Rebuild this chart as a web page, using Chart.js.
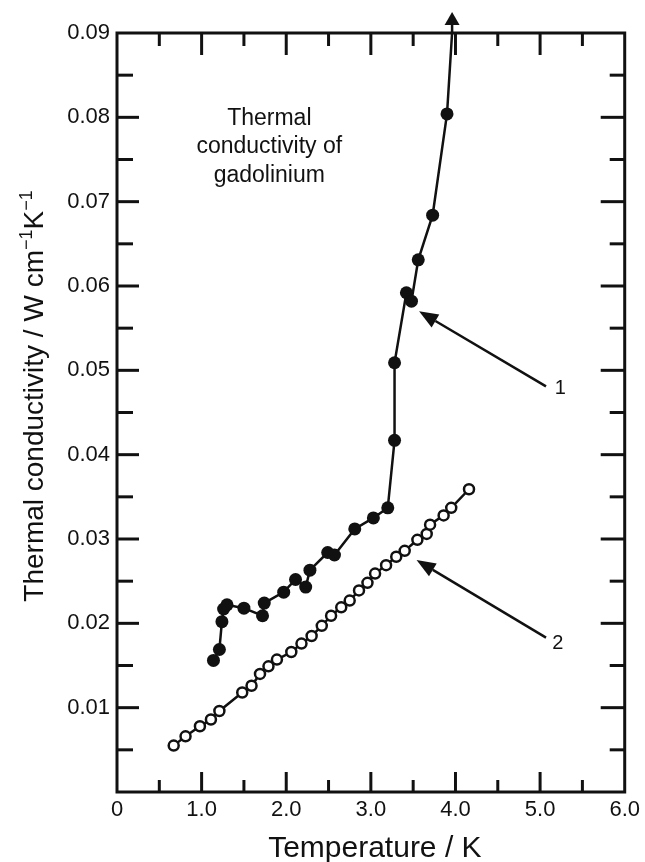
<!DOCTYPE html>
<html>
<head>
<meta charset="utf-8">
<script src="https://cdn.jsdelivr.net/npm/chart.js@4.4.1/dist/chart.umd.min.js"></script>
<style>
  html, body { margin: 0; padding: 0; background: #fff; }
  canvas { display: block; }
</style>
</head>
<body>
<canvas id="myChart" width="645" height="862"></canvas>
<script>
// curve 1 (filled circles), last entry is where the line leaves the frame
let temp1 = [1.14, 1.21, 1.24, 1.26, 1.30, 1.50, 1.72, 1.74, 1.97, 2.11, 2.23, 2.28,
             2.49, 2.57, 2.81, 3.03, 3.20, 3.28, 3.28, 3.42, 3.48, 3.56, 3.73, 3.90, 3.96];
let cond1 = [0.0156, 0.0169, 0.0202, 0.0217, 0.0222, 0.0218, 0.0209, 0.0224, 0.0237, 0.0252, 0.0243, 0.0263,
             0.0284, 0.0281, 0.0312, 0.0325, 0.0337, 0.0417, 0.0509, 0.0592, 0.0582, 0.0631, 0.0684, 0.0804, 0.0900];

// curve 2 (open circles)
let temp2 = [0.67, 0.81, 0.98, 1.11, 1.21, 1.48, 1.59, 1.69, 1.79, 1.89, 2.06, 2.18, 2.30, 2.42, 2.53,
             2.65, 2.75, 2.86, 2.96, 3.05, 3.18, 3.30, 3.40, 3.55, 3.66, 3.70, 3.86, 3.95, 4.16];
let cond2 = [0.0055, 0.0066, 0.0078, 0.0086, 0.0096, 0.0118, 0.0126, 0.0140, 0.0149, 0.0157, 0.0166, 0.0176, 0.0185, 0.0197, 0.0209,
             0.0219, 0.0227, 0.0239, 0.0248, 0.0259, 0.0269, 0.0279, 0.0286, 0.0299, 0.0306, 0.0317, 0.0328, 0.0337, 0.0359];

let xTickLabels = ['0', '1.0', '2.0', '3.0', '4.0', '5.0', '6.0'];
let yTickLabels = ['', '0.01', '0.02', '0.03', '0.04', '0.05', '0.06', '0.07', '0.08', '0.09'];

let ink = '#111';
let fam = '"Liberation Sans", Arial, Helvetica, sans-serif';

function toPoints(xs, ys) {
    return xs.map((t, i) => ({x: t, y: ys[i]}));
}

function arrow(ctx, x0, y0, x1, y1, headLen, headW) {
    let ang = Math.atan2(y1 - y0, x1 - x0);
    let bx = x1 - Math.cos(ang) * headLen, by = y1 - Math.sin(ang) * headLen;
    ctx.beginPath();
    ctx.moveTo(x0, y0);
    ctx.lineTo(bx, by);
    ctx.stroke();
    ctx.beginPath();
    ctx.moveTo(x1, y1);
    ctx.lineTo(bx + Math.sin(ang) * headW / 2, by - Math.cos(ang) * headW / 2);
    ctx.lineTo(bx - Math.sin(ang) * headW / 2, by + Math.cos(ang) * headW / 2);
    ctx.closePath();
    ctx.fill();
}

// frame, inward ticks, arrows and text
let decor = {
    id: 'decor',
    afterDraw(chart) {
        let ctx = chart.ctx, a = chart.chartArea;
        let x = chart.scales.x, y = chart.scales.y;
        let seg = (x0, y0, x1, y1) => { ctx.beginPath(); ctx.moveTo(x0, y0); ctx.lineTo(x1, y1); ctx.stroke(); };
        ctx.save();
        ctx.strokeStyle = ink;
        ctx.fillStyle = ink;
        ctx.lineWidth = 3;
        ctx.strokeRect(a.left, a.top, a.right - a.left, a.bottom - a.top);

        for (let i = 1; i < 12; i++) {
            let px = x.getPixelForValue(i * 0.5);
            let major = i % 2 === 0;
            seg(px, a.bottom, px, a.bottom - (major ? 20 : 12));
            seg(px, a.top, px, a.top + (major ? 22 : 13));
        }
        for (let i = 1; i < 18; i++) {
            let py = y.getPixelForValue(i * 0.005);
            let major = i % 2 === 0;
            seg(a.left, py, a.left + (major ? 22 : 16), py);
            seg(a.right, py, a.right - (major ? 24 : 15), py);
        }

        // curve 1 runs off the top of the frame
        ctx.lineWidth = 2.5;
        let ex = x.getPixelForValue(temp1[temp1.length - 1]);
        arrow(ctx, ex, a.top, ex, a.top - 21, 13, 15);

        // pointer arrows
        arrow(ctx, x.getPixelForValue(5.07), y.getPixelForValue(0.0481),
              x.getPixelForValue(3.57), y.getPixelForValue(0.0570), 19, 15);
        arrow(ctx, x.getPixelForValue(5.07), y.getPixelForValue(0.0183),
              x.getPixelForValue(3.54), y.getPixelForValue(0.0275), 19, 15);

        ctx.textAlign = 'center';
        ctx.textBaseline = 'middle';
        ctx.font = '20px ' + fam;
        ctx.fillText('1', x.getPixelForValue(5.24), y.getPixelForValue(0.0478));
        ctx.fillText('2', x.getPixelForValue(5.21), y.getPixelForValue(0.0176));

        ctx.font = '23px ' + fam;
        let ix = x.getPixelForValue(1.80);
        ctx.fillText('Thermal', ix, y.getPixelForValue(0.0799));
        ctx.fillText('conductivity of', ix, y.getPixelForValue(0.0765));
        ctx.fillText('gadolinium', ix, y.getPixelForValue(0.0731));

        // axis titles
        ctx.font = '30px ' + fam;
        ctx.textBaseline = 'alphabetic';
        ctx.fillText('Temperature / K', (a.left + a.right) / 2 + 4, 857);

        let parts = [['Thermal conductivity / W cm', 28, 0], ['\u22121', 18, 11], ['K', 28, 0], ['\u22121', 18, 11]];
        let total = 0;
        parts.forEach(p => { ctx.font = p[1] + 'px ' + fam; total += ctx.measureText(p[0]).width; });
        ctx.translate(33, 396);
        ctx.rotate(-Math.PI / 2);
        ctx.textAlign = 'left';
        let cx = -total / 2;
        parts.forEach(p => {
            ctx.font = p[1] + 'px ' + fam;
            ctx.fillText(p[0], cx, 10 - p[2]);
            cx += ctx.measureText(p[0]).width;
        });
        ctx.restore();
    }
};

let ctx = document.getElementById('myChart').getContext('2d');

let myChart = new Chart(ctx, {
    type: 'scatter',
    data: {
        datasets: [
            {
                data: toPoints(temp1, cond1),
                showLine: true,
                borderColor: ink,
                borderWidth: 2.5,
                backgroundColor: ink,
                pointBackgroundColor: ink,
                pointBorderColor: ink,
                pointBorderWidth: 0,
                pointRadius: (c) => c.dataIndex === temp1.length - 1 ? 0 : 6.5,
                tension: 0
            },
            {
                data: toPoints(temp2, cond2),
                showLine: true,
                borderColor: ink,
                borderWidth: 2.5,
                pointBackgroundColor: '#fff',
                pointBorderColor: ink,
                pointBorderWidth: 2.5,
                pointRadius: 5,
                tension: 0
            }
        ]
    },
    options: {
        responsive: false,
        devicePixelRatio: 1,
        animation: false,
        layout: { padding: { top: 33, right: 19, left: 0, bottom: 0 } },
        plugins: {
            legend: { display: false },
            tooltip: { enabled: false }
        },
        scales: {
            x: {
                type: 'linear',
                min: 0,
                max: 6,
                grid: { display: false, drawTicks: false },
                border: { display: false },
                ticks: {
                    stepSize: 1,
                    autoSkip: false,
                    maxRotation: 0,
                    padding: 5,
                    color: ink,
                    font: { family: fam, size: 22 },
                    callback: (v, i) => xTickLabels[i]
                },
                afterFit: (s) => { s.height = 70; }
            },
            y: {
                type: 'linear',
                min: 0,
                max: 0.09,
                grid: { display: false, drawTicks: false },
                border: { display: false },
                ticks: {
                    stepSize: 0.01,
                    autoSkip: false,
                    padding: 7,
                    color: ink,
                    font: { family: fam, size: 22 },
                    callback: (v, i) => yTickLabels[i]
                },
                afterFit: (s) => { s.width = 117; }
            }
        }
    },
    plugins: [decor]
});
</script>
</body>
</html>
